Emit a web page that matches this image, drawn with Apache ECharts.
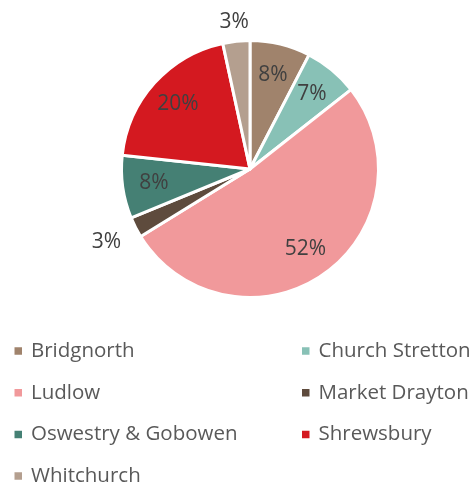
<!DOCTYPE html>
<html>
<head>
<meta charset="utf-8">
<script src="https://cdn.jsdelivr.net/npm/echarts@6/dist/echarts.min.js"></script>
<style>
  html, body { margin: 0; padding: 0; background: #ffffff; }
  #chart { width: 475px; height: 483px; }
</style>
</head>
<body>
<div id="chart"></div>
<script>
// ---- data ----
const categories = ['Bridgnorth', 'Church Stretton', 'Ludlow', 'Market Drayton', 'Oswestry & Gobowen', 'Shrewsbury', 'Whitchurch'];
const values = [7.6, 6.8, 51.8, 2.6, 7.9, 19.9, 3.4];
const colors = ['#A0836C', '#88C1B6', '#F1999B', '#5E4B3D', '#458074', '#D41920', '#B49F8F'];
const leftLegend = ['Bridgnorth', 'Ludlow', 'Oswestry & Gobowen', 'Whitchurch'];
const rightLegend = ['Church Stretton', 'Market Drayton', 'Shrewsbury'];

// ---- layout ----
const FONT = "'Open Sans', 'Noto Sans', sans-serif";
const center = [250, 169];
const pieR = 128.5;
const outerLabelR = { 'Whitchurch': 145, 'Market Drayton': 158 };
const innerLabelR = 94;

const fmt = p => Math.round(p.percent) + '%';
const labelStyle = { fontSize: 21, color: '#404040', fontFamily: FONT };

function labelSeries(r, pick) {
  return {
    type: 'pie',
    silent: true,
    center: center,
    radius: [0, r * 2],
    startAngle: 90,
    clockwise: true,
    z: 5,
    emphasis: { disabled: true },
    itemStyle: { color: 'rgba(0,0,0,0)', borderWidth: 0 },
    labelLine: { show: false },
    label: Object.assign({ position: 'inside', formatter: fmt }, labelStyle),
    data: categories.map((c, i) => ({
      name: c,
      value: values[i],
      label: { show: pick(c) }
    }))
  };
}

const series = [
  {
    type: 'pie',
    center: center,
    radius: [0, pieR],
    startAngle: 90,
    clockwise: true,
    z: 2,
    emphasis: { disabled: true },
    itemStyle: { borderColor: '#ffffff', borderWidth: 3 },
    label: { show: false },
    labelLine: { show: false },
    data: categories.map((c, i) => ({ name: c, value: values[i], itemStyle: { color: colors[i] } }))
  },
  labelSeries(innerLabelR, c => !(c in outerLabelR))
];
Object.keys(outerLabelR).forEach(k => {
  series.push(labelSeries(outerLabelR[k], c => c === k));
});

function legend(left, names) {
  return {
    orient: 'vertical',
    left: left,
    top: 340.5,
    height: 200,
    padding: 0,
    itemGap: 20.7,
    itemWidth: 9.5,
    itemHeight: 9.5,
    icon: 'rect',
    selectedMode: false,
    data: names.map(n => ({ name: n, itemStyle: { color: colors[categories.indexOf(n)] } })),
    textStyle: { fontSize: 20.5, color: '#595959', fontFamily: FONT, lineHeight: 21, padding: [0, 0, 0, 3] }
  };
}

const chart = echarts.init(document.getElementById('chart'), null, { renderer: 'canvas' });
chart.setOption({
  animation: false,
  backgroundColor: '#ffffff',
  legend: [legend(12.5, leftLegend), legend(300, rightLegend)],
  series: series
});
</script>
</body>
</html>
